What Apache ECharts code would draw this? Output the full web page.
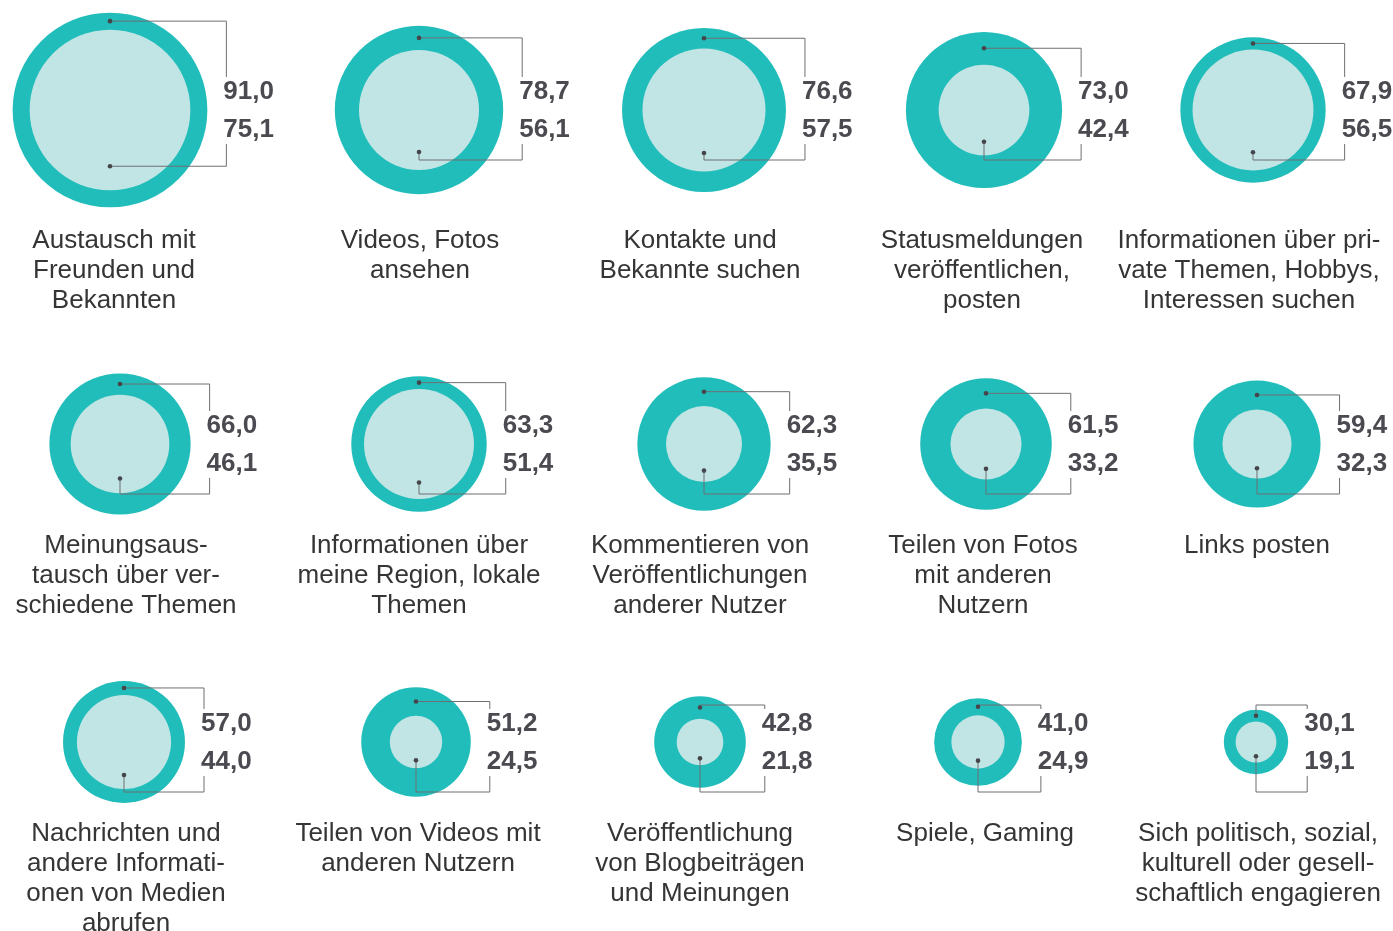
<!DOCTYPE html>
<html>
<head>
<meta charset="utf-8">
<script src="https://cdn.jsdelivr.net/npm/echarts@6/dist/echarts.min.js"></script>
<style>
  html, body { margin: 0; padding: 0; background: #ffffff; }
  #chart { width: 1393px; height: 931px; }
</style>
</head>
<body>
<div id="chart"></div>
<script>
// Activities (German labels, manual line breaks as typeset)
const categories = [
  'Austausch mit\nFreunden und\nBekannten',
  'Videos, Fotos\nansehen',
  'Kontakte und\nBekannte suchen',
  'Statusmeldungen\nveröffentlichen,\nposten',
  'Informationen über pri-\nvate Themen, Hobbys,\nInteressen suchen',
  'Meinungsaus-\ntausch über ver-\nschiedene Themen',
  'Informationen über\nmeine Region, lokale\nThemen',
  'Kommentieren von\nVeröffentlichungen\nanderer Nutzer',
  'Teilen von Fotos\nmit anderen\nNutzern',
  'Links posten',
  'Nachrichten und\nandere Informati-\nonen von Medien\nabrufen',
  'Teilen von Videos mit\nanderen Nutzern',
  'Veröffentlichung\nvon Blogbeiträgen\nund Meinungen',
  'Spiele, Gaming',
  'Sich politisch, sozial,\nkulturell oder gesell-\nschaftlich engagieren'
];

// Outer ring value (upper number) and inner disc value (lower number)
const outerValues = [91.0, 78.7, 76.6, 73.0, 67.9, 66.0, 63.3, 62.3, 61.5, 59.4, 57.0, 51.2, 42.8, 41.0, 30.1];
const innerValues = [75.1, 56.1, 57.5, 42.4, 56.5, 46.1, 51.4, 35.5, 33.2, 32.3, 44.0, 24.5, 21.8, 24.9, 19.1];

// Layout: cell centres in pixels (one small grid per cell)
const COLS = 5;
const CELL_X = [
  [110, 419, 704, 984, 1253],
  [120, 419, 704, 986, 1257],
  [124, 416, 700, 978, 1256]
];
const ROW_Y = [110, 444, 742];
// Caption block centres, relative to the circle centre
const CAPTION_DX = [
  [4, 1, -4, -2, -4],
  [6, 0, -4, -3, 0],
  [2, 2, 0, 7, 2]
];

// Radius in px per percentage point
const PX_PER_UNIT = 1.07;

const TEAL = '#21bdbb';
const LIGHT = '#c0e5e4';
const LINE = '#6f6f73';
const DOT = '#45454a';
const VALUE_COLOR = '#4a4a50';
const TEXT_COLOR = '#353535';
const FONT = '"Liberation Sans", Arial, Helvetica, sans-serif';

const fmt = v => v.toFixed(1).replace('.', ',');

// largest outer radius in each row -> where the caption block starts
const rowMaxR = ROW_Y.map((_, r) =>
  Math.max(...outerValues.slice(r * COLS, r * COLS + COLS)) * PX_PER_UNIT);

const grids = [], xAxes = [], yAxes = [], series = [];

categories.forEach((name, i) => {
  const r = Math.floor(i / COLS), c = i % COLS;
  grids.push({ left: CELL_X[r][c] - 50, top: ROW_Y[r] - 50, width: 100, height: 100, show: false });
  xAxes.push({ type: 'value', min: -1, max: 1, show: false, gridIndex: i });
  yAxes.push({ type: 'value', min: -1, max: 1, show: false, gridIndex: i });
  series.push({
    type: 'custom',
    xAxisIndex: i,
    yAxisIndex: i,
    clip: false,
    silent: true,
    animation: false,
    data: [[0, 0, outerValues[i], innerValues[i]]],
    encode: { x: 0, y: 1 },
    renderItem: function (params, api) {
      const p = api.coord([api.value(0), api.value(1)]);
      const cx = p[0], cy = p[1];
      const R = api.value(2) * PX_PER_UNIT;
      const rr = api.value(3) * PX_PER_UNIT;
      const bx = cx + R + 19;
      const y1 = cy - 18, y2 = cy + 20;

      // upper leader: from the middle of the ring to the upper number
      const dTop = cy - (R + rr) / 2;
      const topLine = Math.min(dTop, y1 - 19);
      // lower leader: from inside the inner disc to the lower number
      const dBot = cy + rr * 0.7;
      const botLine = Math.max(dBot, y2 + 30);

      const capTop = cy + rowMaxR[r] + 31 - 15 + (r === 0 ? 2 : 0);

      return {
        type: 'group',
        children: [
          { type: 'circle', shape: { cx: cx, cy: cy, r: R }, style: { fill: TEAL } },
          { type: 'circle', shape: { cx: cx, cy: cy, r: rr }, style: { fill: LIGHT } },
          { type: 'polyline',
            shape: { points: [[cx, dTop], [cx, topLine], [bx, topLine], [bx, y1 - 15]] },
            style: { stroke: LINE, lineWidth: 1, fill: null } },
          { type: 'polyline',
            shape: { points: [[cx, dBot], [cx, botLine], [bx, botLine], [bx, y2 + 14]] },
            style: { stroke: LINE, lineWidth: 1, fill: null } },
          { type: 'circle', shape: { cx: cx, cy: dTop, r: 2.3 }, style: { fill: DOT } },
          { type: 'circle', shape: { cx: cx, cy: dBot, r: 2.3 }, style: { fill: DOT } },
          { type: 'text', x: bx - 3, y: y1,
            style: { text: fmt(api.value(2)), fill: VALUE_COLOR, font: 'bold 26px ' + FONT,
                     textAlign: 'left', textVerticalAlign: 'middle' } },
          { type: 'text', x: bx - 3, y: y2,
            style: { text: fmt(api.value(3)), fill: VALUE_COLOR, font: 'bold 26px ' + FONT,
                     textAlign: 'left', textVerticalAlign: 'middle' } },
          { type: 'text', x: cx + CAPTION_DX[r][c], y: capTop,
            style: { text: name, fill: TEXT_COLOR, font: '26px ' + FONT, lineHeight: 30,
                     textAlign: 'center', textVerticalAlign: 'top' } }
        ]
      };
    }
  });
});

const chart = echarts.init(document.getElementById('chart'), null, { renderer: 'canvas' });
chart.setOption({
  backgroundColor: '#ffffff',
  animation: false,
  grid: grids,
  xAxis: xAxes,
  yAxis: yAxes,
  series: series
});
</script>
</body>
</html>
